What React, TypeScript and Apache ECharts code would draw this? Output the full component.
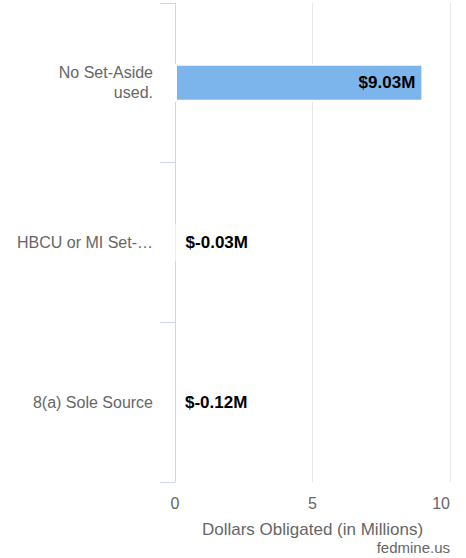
import React, { useEffect, useRef } from "react";
import * as echarts from "echarts";

const categories = ["No Set-Aside used.", "HBCU or MI Set-…", "8(a) Sole Source"];
const values = [9.03, -0.03, -0.12];
const xTicks = [0, 5, 10];
const axisTitle = "Dollars Obligated (in Millions)";
const credit = "fedmine.us";

export default function App() {
  const ref = useRef<HTMLDivElement>(null);
  useEffect(() => {
    document.body.style.margin = "0";
    const chart = echarts.init(ref.current!, null, { renderer: "svg" });
    const font = "Arial, 'Liberation Sans', sans-serif";
    chart.setOption({
      animation: false,
      textStyle: { fontFamily: font },
      grid: { left: 175, right: 16, top: 3, bottom: 76, containLabel: false },
      xAxis: {
        type: "value",
        min: xTicks[0],
        max: xTicks[xTicks.length - 1],
        interval: xTicks[1] - xTicks[0],
        name: axisTitle,
        nameLocation: "middle",
        nameGap: 39,
        nameTextStyle: { fontSize: 17, color: "#666666", fontFamily: font },
        axisLine: { show: false },
        axisTick: { show: false },
        axisLabel: {
          fontSize: 16,
          color: "#666666",
          margin: 13,
          fontFamily: font,
          alignMaxLabel: "right",
        },
        splitLine: { show: true, lineStyle: { color: "#e6e6e6", width: 1 } },
      },
      yAxis: {
        type: "category",
        data: categories,
        inverse: true,
        axisLine: { show: true, onZero: true, lineStyle: { color: "#ccd6eb", width: 1 } },
        axisTick: { show: true, length: 15, lineStyle: { color: "#ccd6eb" } },
        axisLabel: {
          fontSize: 16,
          color: "#666666",
          margin: 22,
          lineHeight: 20,
          fontFamily: font,
          formatter: (v: string) => v.replace("Set-Aside ", "Set-Aside\n"),
        },
        splitLine: { show: false },
      },
      series: [
        {
          type: "bar",
          barWidth: 38,
          clip: false,
          data: values.map((v) => ({
            value: v,
            label:
              v < 0
                ? { position: "right", distance: 10 }
                : { position: "insideRight", distance: 8 },
          })),
          itemStyle: { color: "#7cb5ec", borderColor: "#ffffff", borderWidth: 2 },
          label: {
            show: true,
            fontSize: 17,
            fontWeight: "bold",
            color: "#000000",
            fontFamily: font,
            formatter: (p: any) => "$" + p.value.toFixed(2) + "M",
          },
        },
      ],
      graphic: [
        {
          type: "text",
          right: 16,
          top: 540,
          style: { text: credit, fontSize: 15, fill: "#666666", fontFamily: font },
        },
      ],
    });
    return () => chart.dispose();
  }, []);
  return <div ref={ref} style={{ width: 466, height: 558 }} />;
}
